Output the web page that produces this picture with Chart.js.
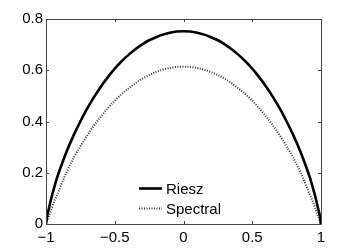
<!DOCTYPE html>
<html>
<head>
<meta charset="utf-8">
<script src="https://cdn.jsdelivr.net/npm/chart.js@4.4.0/dist/chart.umd.min.js"></script>
<style>
  html, body { margin: 0; padding: 0; background: #fff; }
  #wrap { width: 354px; height: 252px; }
</style>
</head>
<body>
<div id="wrap"><canvas id="chart"></canvas></div>
<script>
// values
const xValues = [-1, -0.99, -0.98, -0.96, -0.94, -0.92, -0.9, -0.85, -0.8, -0.75, -0.7, -0.65, -0.6, -0.55, -0.5, -0.45, -0.4, -0.35, -0.3, -0.25, -0.2, -0.15, -0.1, -0.05,
  0, 0.05, 0.1, 0.15, 0.2, 0.25, 0.3, 0.35, 0.4, 0.45, 0.5, 0.55, 0.6, 0.65, 0.7, 0.75, 0.8, 0.85, 0.9, 0.92, 0.94, 0.96, 0.98, 0.99, 1];
const riesz = [0, 0.036, 0.058, 0.104, 0.143, 0.18, 0.211, 0.283, 0.345, 0.4, 0.451, 0.496, 0.537, 0.573, 0.606, 0.635, 0.66, 0.682, 0.701, 0.717, 0.729, 0.739, 0.746, 0.751,
  0.752, 0.751, 0.746, 0.739, 0.729, 0.717, 0.701, 0.682, 0.66, 0.635, 0.606, 0.573, 0.537, 0.496, 0.451, 0.4, 0.345, 0.283, 0.211, 0.18, 0.143, 0.104, 0.058, 0.036, 0];
const spectral = [0, 0.014, 0.028, 0.058, 0.088, 0.112, 0.139, 0.203, 0.257, 0.303, 0.346, 0.385, 0.42, 0.452, 0.481, 0.507, 0.529, 0.549, 0.567, 0.581, 0.593, 0.602, 0.609, 0.613,
  0.614, 0.613, 0.609, 0.602, 0.593, 0.581, 0.567, 0.549, 0.529, 0.507, 0.481, 0.452, 0.42, 0.385, 0.346, 0.303, 0.257, 0.203, 0.139, 0.112, 0.088, 0.058, 0.028, 0.014, 0];
const xTicks = [-1, -0.5, 0, 0.5, 1];
const xTickLabels = ['\u22121', '\u22120.5', '0', '0.5', '1'];
const yTicks = [0, 0.2, 0.4, 0.6, 0.8];
const yTickLabels = ['0', '0.2', '0.4', '0.6', '0.8'];

const FONT = 'Liberation Sans, Arial, sans-serif';

function toPoints(ys) {
    return xValues.map((x, i) => ({ x: x, y: ys[i] }));
}

// box round the plot, ticks drawn inward, legend inside the axes
const matlabAxes = {
    id: 'matlabAxes',
    afterDatasetsDraw(chart) {
        const ctx = chart.ctx;
        const a = chart.chartArea;
        const xs = chart.scales.x;
        const ys = chart.scales.y;
        ctx.save();
        ctx.strokeStyle = '#444';
        ctx.lineWidth = 1;
        ctx.beginPath();
        ctx.rect(Math.round(a.left) + 0.5, Math.round(a.top) + 0.5, Math.round(a.right - a.left), Math.round(a.bottom - a.top));
        ctx.stroke();
        ctx.beginPath();
        xTicks.forEach(t => {
            const px = Math.round(xs.getPixelForValue(t)) + 0.5;
            ctx.moveTo(px, a.bottom); ctx.lineTo(px, a.bottom - 3);
            ctx.moveTo(px, a.top); ctx.lineTo(px, a.top + 3);
        });
        yTicks.forEach(t => {
            const py = Math.round(ys.getPixelForValue(t)) + 0.5;
            ctx.moveTo(a.left, py); ctx.lineTo(a.left + 3, py);
            ctx.moveTo(a.right, py); ctx.lineTo(a.right - 3, py);
        });
        ctx.stroke();

        // legend
        const lx = 139, ly = 188.5, gap = 20;
        ctx.font = '15px ' + FONT;
        ctx.textBaseline = 'middle';
        ctx.fillStyle = '#000';
        chart.data.datasets.forEach((ds, i) => {
            const y = ly + i * gap;
            ctx.strokeStyle = ds.borderColor;
            ctx.lineWidth = ds.borderWidth;
            ctx.setLineDash(ds.borderDash || []);
            ctx.beginPath();
            ctx.moveTo(lx, y); ctx.lineTo(lx + 23, y);
            ctx.stroke();
            ctx.setLineDash([]);
            ctx.fillText(ds.label, lx + 27, y + 1);
        });
        ctx.restore();
    }
};

new Chart(document.getElementById('chart'), {
    type: 'line',
    data: {
        datasets: [
            {
                label: 'Riesz',
                data: toPoints(riesz),
                borderColor: '#000',
                borderWidth: 2.6,
                pointRadius: 0,
                cubicInterpolationMode: 'monotone',
                fill: false
            },
            {
                label: 'Spectral',
                data: toPoints(spectral),
                borderColor: '#333',
                borderWidth: 2,
                borderDash: [1, 1.5],
                pointRadius: 0,
                cubicInterpolationMode: 'monotone',
                fill: false
            }
        ]
    },
    options: {
        responsive: true,
        maintainAspectRatio: false,
        animation: false,
        layout: { padding: { left: 0, right: 33, top: 19, bottom: 0 } },
        scales: {
            x: {
                type: 'linear',
                min: -1,
                max: 1,
                afterBuildTicks: (axis) => { axis.ticks = xTicks.map(v => ({ value: v })); },
                afterFit: (axis) => { axis.height = 28; },
                grid: { display: false, drawTicks: false },
                border: { display: false },
                ticks: {
                    color: '#000',
                    padding: 5,
                    maxRotation: 0,
                    font: { family: FONT, size: 15 },
                    callback: (v) => xTickLabels[xTicks.indexOf(v)]
                }
            },
            y: {
                min: 0,
                max: 0.8,
                afterBuildTicks: (axis) => { axis.ticks = yTicks.map(v => ({ value: v })); },
                afterFit: (axis) => { axis.width = 46; },
                grid: { display: false, drawTicks: false },
                border: { display: false },
                ticks: {
                    color: '#000',
                    padding: 3,
                    font: { family: FONT, size: 15 },
                    callback: (v) => yTickLabels[yTicks.indexOf(v)]
                }
            }
        },
        plugins: {
            legend: { display: false },
            tooltip: { enabled: false }
        }
    },
    plugins: [matlabAxes]
});
</script>
</body>
</html>
